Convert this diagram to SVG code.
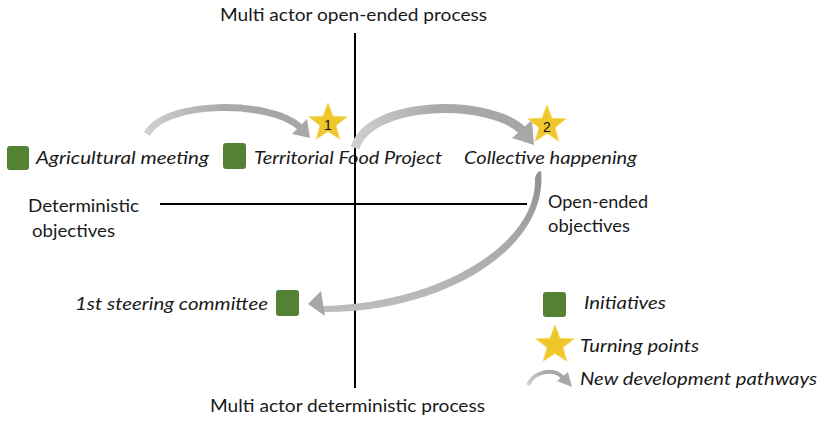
<svg xmlns="http://www.w3.org/2000/svg" width="823" height="421" viewBox="0 0 823 421">
<style>
.lbl{font-family:Lato,"Liberation Sans",sans-serif;font-size:17px;fill:#1a1a1a}
.it{font-style:italic;font-size:18px}
.sq{fill:#548235}
.star{fill:#f0c72a;stroke:#f6dc6a;stroke-width:0.8}
.num{font-family:"Liberation Sans",sans-serif;font-size:14px;fill:#111;text-anchor:middle}
.axis{stroke:#000;stroke-width:2}
.head{fill:#a8a8a8}
</style>
<defs>
<polygon id="starShape" points="0,-19 4.7,-6.47 18.07,-5.87 7.61,2.47 11.17,15.37 0,8 -11.17,15.37 -7.61,2.47 -18.07,-5.87 -4.7,-6.47"/>
<linearGradient id="gH" x1="0" y1="0" x2="1" y2="0">
<stop offset="0" stop-color="#cfcfcf"/>
<stop offset="0.5" stop-color="#a9a9a9"/>
<stop offset="1" stop-color="#a6a6a6"/>
</linearGradient>
<linearGradient id="gV" x1="0" y1="0" x2="0" y2="1">
<stop offset="0" stop-color="#8f8f8f"/>
<stop offset="0.5" stop-color="#a8a8a8"/>
<stop offset="1" stop-color="#bdbdbd"/>
</linearGradient>
</defs>

<g id="axes">
<line class="axis" x1="355" y1="33" x2="355" y2="388"/>
<line class="axis" x1="160" y1="204" x2="527" y2="204"/>
</g>

<g id="connectors">
<g id="arrow1">
<path d="M147,134 C165,100 270,100 300,127" fill="none" stroke="url(#gH)" stroke-width="7"/>
<polygon class="head" points="292,134 310,138 307,119"/>
</g>
<g id="arrow2">
<path d="M355,148 C370,99 490,99 522,130" fill="none" stroke="url(#gH)" stroke-width="9"/>
<polygon class="head" points="512,138 534,145 532,120"/>
</g>
<g id="arrow3">
<path d="M541,171 C549,250 440,314 320,312 L320,306 C436,305 538,245 535,178 Q537,171 541,171 Z" fill="url(#gV)"/>
<polygon class="head" points="308,304 321,291 325,316"/>
</g>
</g>

<g id="node-agricultural">
<rect class="sq" x="7" y="146" width="22" height="24" rx="3"/>
<text class="lbl it" x="36" y="164" textLength="173" lengthAdjust="spacingAndGlyphs">Agricultural meeting</text>
</g>
<g id="node-territorial">
<rect class="sq" x="223" y="143" width="23" height="26" rx="3"/>
<text class="lbl it" x="254" y="164" textLength="188" lengthAdjust="spacingAndGlyphs">Territorial Food Project</text>
</g>
<g id="node-collective">
<text class="lbl it" x="464" y="164" textLength="173" lengthAdjust="spacingAndGlyphs">Collective happening</text>
</g>
<g id="node-steering">
<rect class="sq" x="276" y="290" width="23" height="26" rx="3"/>
<text class="lbl it" x="75" y="310" textLength="193" lengthAdjust="spacingAndGlyphs">1st steering committee</text>
</g>
<g id="turning-point-1">
<use href="#starShape" class="star" transform="translate(328,123) scale(1.06)"/>
<text class="num" x="328" y="130">1</text>
</g>
<g id="turning-point-2">
<use href="#starShape" class="star" transform="translate(547,125) scale(1.06)"/>
<text class="num" x="547" y="132">2</text>
</g>

<g id="axis-labels">
<text class="lbl" x="220" y="21" textLength="267" lengthAdjust="spacingAndGlyphs">Multi actor open-ended  process</text>
<text class="lbl" x="210" y="412" textLength="275" lengthAdjust="spacingAndGlyphs">Multi actor deterministic process</text>
<text class="lbl" x="28" y="212" textLength="111" lengthAdjust="spacingAndGlyphs">Deterministic</text>
<text class="lbl" x="32" y="237" textLength="83" lengthAdjust="spacingAndGlyphs">objectives</text>
<text class="lbl" x="548" y="208" textLength="100" lengthAdjust="spacingAndGlyphs">Open-ended</text>
<text class="lbl" x="548" y="232" textLength="82" lengthAdjust="spacingAndGlyphs">objectives</text>
</g>

<g id="legend">
<rect class="sq" x="543" y="292" width="23" height="25" rx="3"/>
<text class="lbl it" x="584" y="309" textLength="82" lengthAdjust="spacingAndGlyphs">Initiatives</text>
<use href="#starShape" class="star" transform="translate(555,345) scale(1.06)"/>
<text class="lbl it" x="580" y="352" textLength="119" lengthAdjust="spacingAndGlyphs">Turning points</text>
<path d="M528,385 C535,370 555,368 563,378" fill="none" stroke="url(#gH)" stroke-width="4"/>
<polygon class="head" points="557,381 572,387 568,372"/>
<text class="lbl it" x="580" y="385" textLength="237" lengthAdjust="spacingAndGlyphs">New development pathways</text>
</g>
</svg>
